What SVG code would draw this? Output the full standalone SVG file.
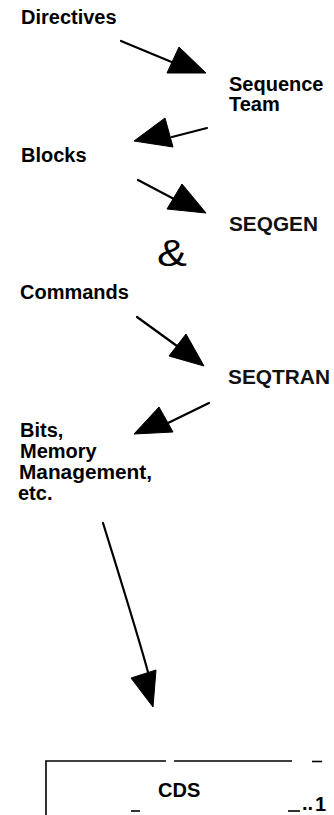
<svg xmlns="http://www.w3.org/2000/svg" width="334" height="815" viewBox="0 0 334 815">
  <style>
    .lbl { font-family: "Liberation Sans", Arial, sans-serif; font-weight: bold; font-size: 20px; fill: #000; }
    .prog { font-family: "Liberation Sans", Arial, sans-serif; font-weight: bold; font-size: 21px; fill: #111; }
    .amp { font-family: "Liberation Sans", Arial, sans-serif; font-weight: normal; font-size: 37px; fill: #000; }
    .shaft { stroke: #000; stroke-width: 2.2; fill: none; stroke-linecap: round; }
    .head { fill: #000; stroke: #000; stroke-width: 1; stroke-linejoin: round; }
    .rule { stroke: #000; stroke-width: 1.6; fill: none; }
  </style>

  <rect width="334" height="815" fill="#fff"/>

  <!-- flow arrows -->
  <g id="connectors">
    <line class="shaft" x1="121" y1="41" x2="174" y2="63"/>
    <polygon class="head" points="179,47 167,73 206,73"/>

    <line class="shaft" x1="207" y1="128" x2="172" y2="137"/>
    <polygon class="head" points="165,118 134,141 173,147"/>

    <line class="shaft" x1="138" y1="180" x2="174" y2="199"/>
    <polygon class="head" points="182,184 167,209 206,213"/>

    <line class="shaft" x1="137" y1="317" x2="177" y2="346"/>
    <polygon class="head" points="186,334 169,356 204,366"/>

    <line class="shaft" x1="209" y1="403" x2="168" y2="423"/>
    <polygon class="head" points="159,407 134,434 173,432"/>

    <path class="shaft" d="M103,523 Q141,645 149,676"/>
    <polygon class="head" points="131,678 156,670 153,707"/>
  </g>

  <g id="directives"><text class="lbl" x="21" y="24">Directives</text></g>
  <g id="sequence-team">
    <text class="lbl" x="229" y="91">Sequence</text>
    <text class="lbl" x="229" y="111">Team</text>
  </g>
  <g id="blocks"><text class="lbl" x="21" y="162">Blocks</text></g>
  <g id="seqgen"><text class="prog" x="229" y="231" textLength="89" lengthAdjust="spacingAndGlyphs">SEQGEN</text></g>
  <g id="ampersand"><text class="amp" x="157" y="266" textLength="30" lengthAdjust="spacingAndGlyphs">&amp;</text></g>
  <g id="commands"><text class="lbl" x="20" y="299">Commands</text></g>
  <g id="seqtran"><text class="prog" x="228" y="384" textLength="102" lengthAdjust="spacingAndGlyphs">SEQTRAN</text></g>
  <g id="bits">
    <text class="lbl" x="20" y="437">Bits,</text>
    <text class="lbl" x="20" y="458">Memory</text>
    <text class="lbl" x="19" y="479" textLength="133" lengthAdjust="spacingAndGlyphs">Management,</text>
    <text class="lbl" x="18" y="500">etc.</text>
  </g>

  <!-- CDS frame, running off the lower edge -->
  <g id="cds">
    <path class="rule" d="M46,815 V761 H166"/>
    <line class="rule" x1="174" y1="761" x2="292" y2="761"/>
    <line class="rule" x1="312" y1="761.5" x2="322" y2="761.5" stroke-width="2"/>
    <text class="lbl" x="158" y="797">CDS</text>
    <line class="rule" x1="131" y1="811" x2="140" y2="811" stroke-width="3"/>
    <line class="rule" x1="288" y1="811" x2="300" y2="811" stroke-width="3"/>
    <text class="lbl" x="302" y="810" font-size="10">..</text>
    <text class="lbl" x="315" y="811" font-size="14">1</text>
  </g>
</svg>
